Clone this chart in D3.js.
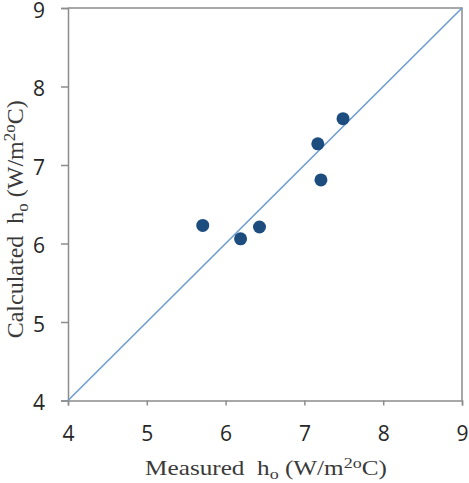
<!DOCTYPE html>
<html>
<head>
<meta charset="utf-8">
<script src="https://cdn.jsdelivr.net/npm/d3@7"></script>
<style>
body { margin: 0; background: #fff; }
</style>
</head>
<body>
<script>
const w = 469
const h = 483
const margin = {top: 8, right: 6, bottom: 82, left: 68}

const measured = [5.71, 6.19, 6.43, 7.17, 7.21, 7.49]
const calculated = [6.23, 6.06, 6.21, 7.27, 6.81, 7.59]
const ticks = [4, 5, 6, 7, 8, 9]
const lineData = [[4, 4], [9, 9]]

const svg = d3.select('body')
	.append('svg')
	.attr('width', w)
	.attr('height', h)

const xScale = d3.scaleLinear()
	.domain([4, 9])
	.range([margin.left, w - margin.right - 1])

const yScale = d3.scaleLinear()
	.domain([4, 9])
	.range([h - margin.bottom - 0.5, margin.top])

const axisColor = '#8c8c8c'

// frame (top and right)
svg.append('path')
	.attr('d', `M${xScale(4)},${yScale(9)}H${xScale(9)}V${yScale(4)}`)
	.attr('stroke', axisColor)
	.attr('stroke-width', 1.5)
	.attr('fill', 'none')

const xAxis = d3.axisBottom(xScale)
	.tickValues(ticks)
	.tickFormat(d3.format('d'))
	.tickSize(5)
	.tickPadding(21)

const yAxis = d3.axisLeft(yScale)
	.tickValues(ticks)
	.tickFormat(d3.format('d'))
	.tickSize(7)
	.tickPadding(16)

const gx = svg.append('g')
	.attr('transform', `translate(0,${yScale(4)})`)
	.call(xAxis)

const gy = svg.append('g')
	.attr('transform', `translate(${xScale(4)},0)`)
	.call(yAxis)

gy.selectAll('.tick text').attr('dy', '0.44em')

for (const g of [gx, gy]) {
	g.select('.domain').attr('stroke', axisColor).attr('stroke-width', 1.5)
	g.selectAll('.tick line').attr('stroke', axisColor).attr('stroke-width', 1.5)
	g.selectAll('.tick text')
		.attr('font-family', 'Open Sans, sans-serif')
		.attr('font-size', '21px')
		.attr('fill', '#262626')
}

// 1:1 line
const lineFunction = d3.line()
	.x(d => xScale(d[0]))
	.y(d => yScale(d[1]))

svg.append('path')
	.attr('d', lineFunction(lineData))
	.attr('stroke', '#6d9dd1')
	.attr('stroke-width', 1.6)
	.attr('fill', 'none')

svg.selectAll('circle')
	.data(measured)
	.enter()
	.append('circle')
	.attr('cx', d => xScale(d))
	.attr('cy', (d, i) => yScale(calculated[i]))
	.attr('r', 6.5)
	.attr('fill', '#1c4d7e')

function title(sel, name, size) {
	const sub = Math.round(size * 0.7)
	sel.attr('font-family', 'Liberation Serif, Times New Roman, serif')
		.attr('font-size', size + 'px')
		.attr('fill', '#3a3a3a')
		.attr('text-anchor', 'middle')
	sel.append('tspan').text(name + '\u00a0 h')
	sel.append('tspan').text('o').attr('font-size', sub + 'px').attr('dy', size * 0.2)
	sel.append('tspan').text(' (W/m').attr('dy', -size * 0.2)
	sel.append('tspan').text('2o').attr('font-size', sub + 'px').attr('dy', -size * 0.35)
	sel.append('tspan').text('C)').attr('dy', size * 0.35)
}

svg.append('text')
	.attr('transform', 'translate(266,475) scale(1.2,1)')
	.call(title, 'Measured', 21)

svg.append('text')
	.attr('transform', `translate(23,${(yScale(4) + yScale(9)) / 2 + 15}) rotate(-90)`)
	.call(title, 'Calculated', 24)
</script>
</body>
</html>
